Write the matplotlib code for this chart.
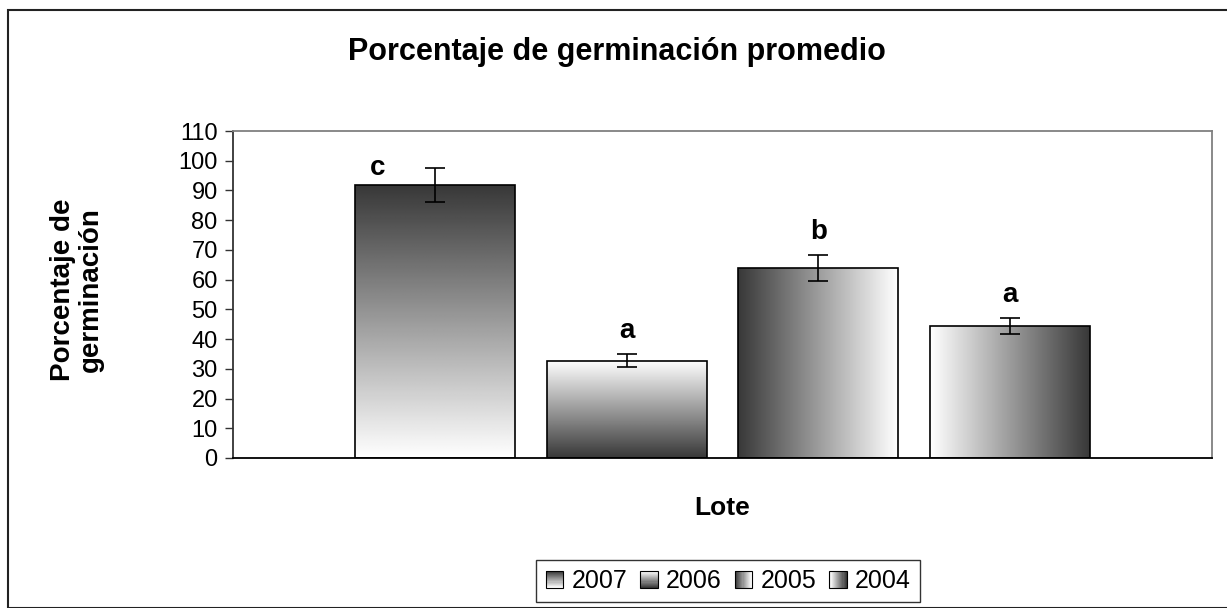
import matplotlib
matplotlib.use("Agg")
import matplotlib.pyplot as plt
import numpy as np
from matplotlib.patches import Rectangle
from matplotlib.legend_handler import HandlerBase

plt.rcParams["font.family"] = ["Liberation Sans", "DejaVu Sans"]

# ── Datos ──────────────────────────────────────────────────────────────────────
lotes = ["2007", "2006", "2005", "2004"]
germinacion = [91.8, 32.7, 64.0, 44.4]
error = [5.8, 2.2, 4.3, 2.7]
letras = ["c", "a", "b", "a"]
# dirección del degradado: (orientación, lado oscuro)
degradados = [("v", "top"), ("v", "bottom"), ("h", "left"), ("h", "right")]

DARK = 0.22
LIGHT = 1.0


def gradiente(orient, oscuro, n=256):
    t = np.linspace(0, 1, n)
    if oscuro in ("top", "left"):
        g = DARK + (LIGHT - DARK) * t
    else:
        g = LIGHT - (LIGHT - DARK) * t
    if orient == "v":
        return g.reshape(-1, 1)
    return g.reshape(1, -1)


class HandlerGradiente(HandlerBase):
    def __init__(self, orient, oscuro):
        super().__init__()
        self.orient = orient
        self.oscuro = oscuro

    def create_artists(self, legend, orig_handle, xdescent, ydescent,
                       width, height, fontsize, trans):
        size = min(width, height)
        x0 = -xdescent + (width - size) / 2
        y0 = -ydescent + (height - size) / 2
        n = 16
        arts = []
        vals = gradiente(self.orient, self.oscuro, n).ravel()
        for i, v in enumerate(vals):
            if self.orient == "v":
                r = Rectangle((x0, y0 + size - (i + 1) * size / n), size, size / n,
                              facecolor=str(v), edgecolor="none", transform=trans)
            else:
                r = Rectangle((x0 + i * size / n, y0), size / n, size,
                              facecolor=str(v), edgecolor="none", transform=trans)
            arts.append(r)
        arts.append(Rectangle((x0, y0), size, size, facecolor="none",
                              edgecolor="black", lw=0.8, transform=trans))
        return arts


fig = plt.figure(figsize=(12.27, 6.08), dpi=100)
fig.patches.append(Rectangle((8 / 1227, 0), 1.1, 1 - 10 / 608, transform=fig.transFigure,
                             facecolor="none", edgecolor="#222222", lw=1.5))

ax = fig.add_axes([233 / 1227, 1 - 458 / 608, (1212 - 233) / 1227, (458 - 131) / 608])

ancho = 0.1634
paso = 0.196
x = 0.5 + (np.arange(len(lotes)) - 1.5) * paso
barras = ax.bar(x, germinacion, width=ancho, facecolor="none", edgecolor="black",
                lw=1.2, zorder=3)
for b, (orient, oscuro) in zip(barras, degradados):
    x0, y0 = b.get_x(), b.get_y()
    im = ax.imshow(gradiente(orient, oscuro), cmap="gray", vmin=0, vmax=1,
                   extent=[x0, x0 + b.get_width(), y0, y0 + b.get_height()],
                   aspect="auto", zorder=2, interpolation="bilinear")
    im.set_clip_path(b)

ax.errorbar(x, germinacion, yerr=error, fmt="none", ecolor="black",
            elinewidth=1.2, capsize=7, capthick=1.2, zorder=4)

for xi, v, e, l in zip(x, germinacion, error, letras):
    if l == "c":
        ax.text(xi - 0.058, v + 1.5, l, ha="center", va="bottom",
                fontsize=20, fontweight="bold")
    else:
        ax.text(xi, v + e + 3.5, l, ha="center", va="bottom",
                fontsize=20, fontweight="bold")

ax.set_xlim(0, 1)
ax.set_ylim(0, 110)
ax.set_yticks(np.arange(0, 111, 10))
ax.set_xticks([])
ax.tick_params(axis="y", labelsize=17, direction="out", length=6, width=1,
               color="#333333", pad=5)
for s in ["top", "right"]:
    ax.spines[s].set_color("#808080")
    ax.spines[s].set_linewidth(1.3)
ax.spines["left"].set_color("#333333")
ax.spines["left"].set_linewidth(1.3)
ax.spines["bottom"].set_color("black")
ax.spines["bottom"].set_linewidth(1.3)

fig.text(617 / 1227, 1 - 52 / 608, "Porcentaje de germinación promedio",
         ha="center", va="center", fontsize=22, fontweight="bold")
fig.text(77 / 1227, 1 - 290 / 608, "Porcentaje de\ngerminación", rotation=90,
         ha="center", va="center", fontsize=20, fontweight="bold", linespacing=1.1)
fig.text(722 / 1227, 1 - 508 / 608, "Lote", ha="center", va="center",
         fontsize=19, fontweight="bold")

handles = [Rectangle((0, 0), 1, 1) for _ in lotes]
leg = fig.legend(handles, lotes, loc="center", bbox_to_anchor=(728 / 1227, 1 - 581 / 608),
                 ncol=4, fontsize=18, frameon=True, fancybox=False, edgecolor="black",
                 handlelength=0.75, handleheight=0.7, handletextpad=0.3, columnspacing=0.5,
                 borderpad=0.35,
                 handler_map={h: HandlerGradiente(o, d) for h, (o, d) in zip(handles, degradados)})
leg.get_frame().set_linewidth(1.0)

fig.savefig("out.png", dpi=100)
